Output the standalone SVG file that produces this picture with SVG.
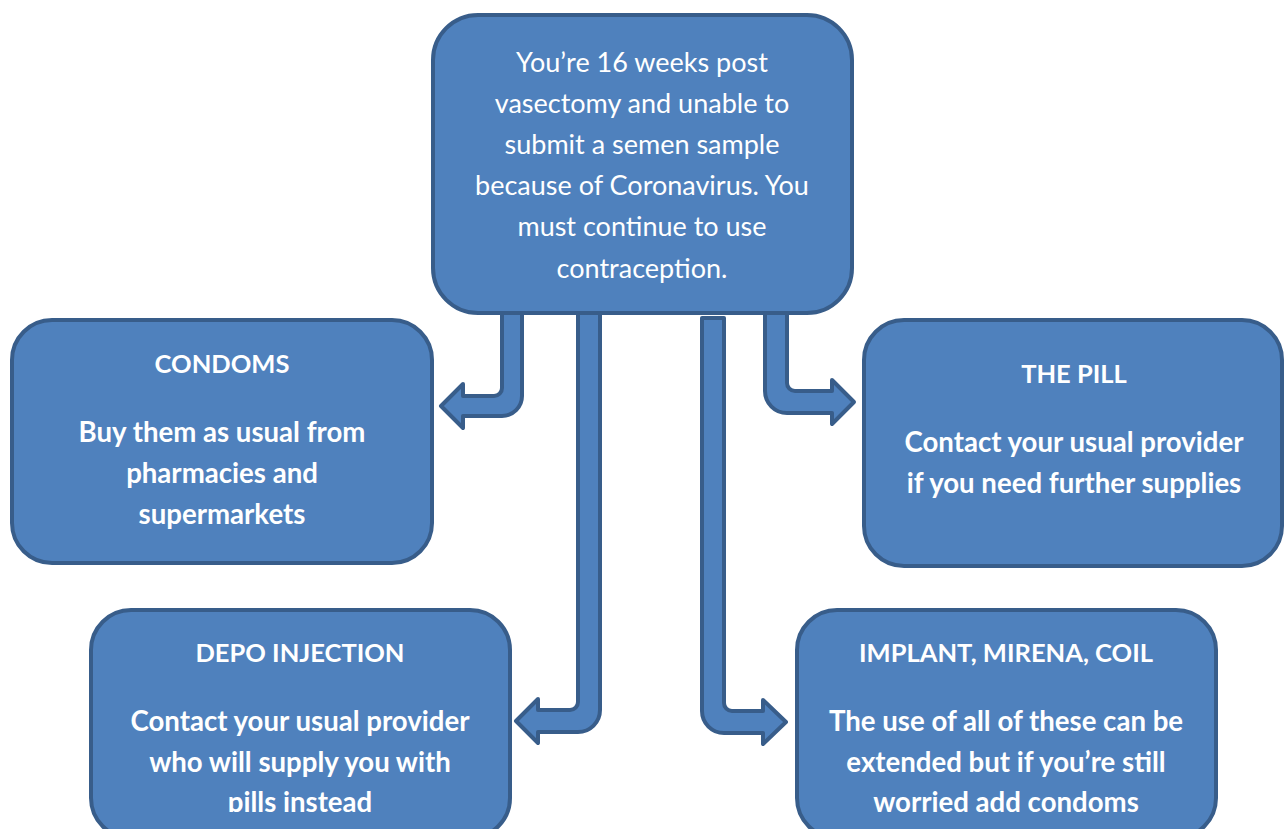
<svg xmlns="http://www.w3.org/2000/svg" width="1285" height="829" viewBox="0 0 1285 829">
<style>
.box{fill:#4f81bd;stroke:#385d8a;stroke-width:4}
.arr{fill:#4f81bd;stroke:#385d8a;stroke-width:4;stroke-linejoin:round}
.t{fill:#ffffff;font-family:Lato,"Open Sans","Liberation Sans",sans-serif;font-size:27px;text-anchor:middle;dominant-baseline:central}
.b{font-weight:bold;font-size:27.6px}
.h{font-size:25.5px}
</style>
<defs>
<clipPath id="clipDepo"><rect x="0" y="0" width="1285" height="812"/></clipPath>
</defs>
<rect width="1285" height="829" fill="#ffffff"/>
<g id="connectors">
<path class="arr" d="M502,300 V388 A8,8 0 0 1 494,396 H463 V384 L441,406 L463,428 V416 H502 A20,20 0 0 0 522,396 V300 Z"/>
<path class="arr" d="M578,300 V702 A8,8 0 0 1 570,710 H538 V699 L516,721 L538,743 V732 H578 A22,22 0 0 0 600,710 V300 Z"/>
<path class="arr" d="M702,318 H724 V703 A8,8 0 0 0 732,711 H763 V700 L786,722 L763,744 V733 H724 A22,22 0 0 1 702,711 Z"/>
<path class="arr" d="M765,300 H787 V383 A8,8 0 0 0 795,391 H832 V380 L854,402 L832,424 V413 H787 A22,22 0 0 1 765,391 Z"/>
</g>
<g id="start">
<rect class="box" x="433" y="15" width="419" height="298" rx="45"/>
<text class="t" x="642" y="61">You’re 16 weeks post</text>
<text class="t" x="642" y="102">vasectomy and unable to</text>
<text class="t" x="642" y="143">submit a semen sample</text>
<text class="t" x="642" y="184">because of Coronavirus. You</text>
<text class="t" x="642" y="225">must continue to use</text>
<text class="t" x="642" y="267">contraception.</text>
</g>
<g id="condoms">
<rect class="box" x="12" y="320" width="420" height="243" rx="40"/>
<text class="t b h" x="222" y="363">CONDOMS</text>
<text class="t b" x="222" y="431">Buy them as usual from</text>
<text class="t b" x="222" y="472">pharmacies and</text>
<text class="t b" x="222" y="513">supermarkets</text>
</g>
<g id="pill">
<rect class="box" x="864" y="320" width="418" height="246" rx="40"/>
<text class="t b h" x="1074" y="373">THE PILL</text>
<text class="t b" x="1074" y="441">Contact your usual provider</text>
<text class="t b" x="1074" y="482">if you need further supplies</text>
</g>
<g id="depo">
<rect class="box" x="91" y="610" width="419" height="228" rx="40"/>
<text class="t b h" x="300" y="652">DEPO INJECTION</text>
<text class="t b" x="300" y="720">Contact your usual provider</text>
<text class="t b" x="300" y="761">who will supply you with</text>
<text class="t b" x="300" y="801" clip-path="url(#clipDepo)">pills instead</text>
</g>
<g id="implant">
<rect class="box" x="797" y="610" width="419" height="228" rx="40"/>
<text class="t b h" x="1006" y="652">IMPLANT, MIRENA, COIL</text>
<text class="t b" x="1006" y="720">The use of all of these can be</text>
<text class="t b" x="1006" y="761">extended but if you’re still</text>
<text class="t b" x="1006" y="801">worried add condoms</text>
</g>
</svg>
